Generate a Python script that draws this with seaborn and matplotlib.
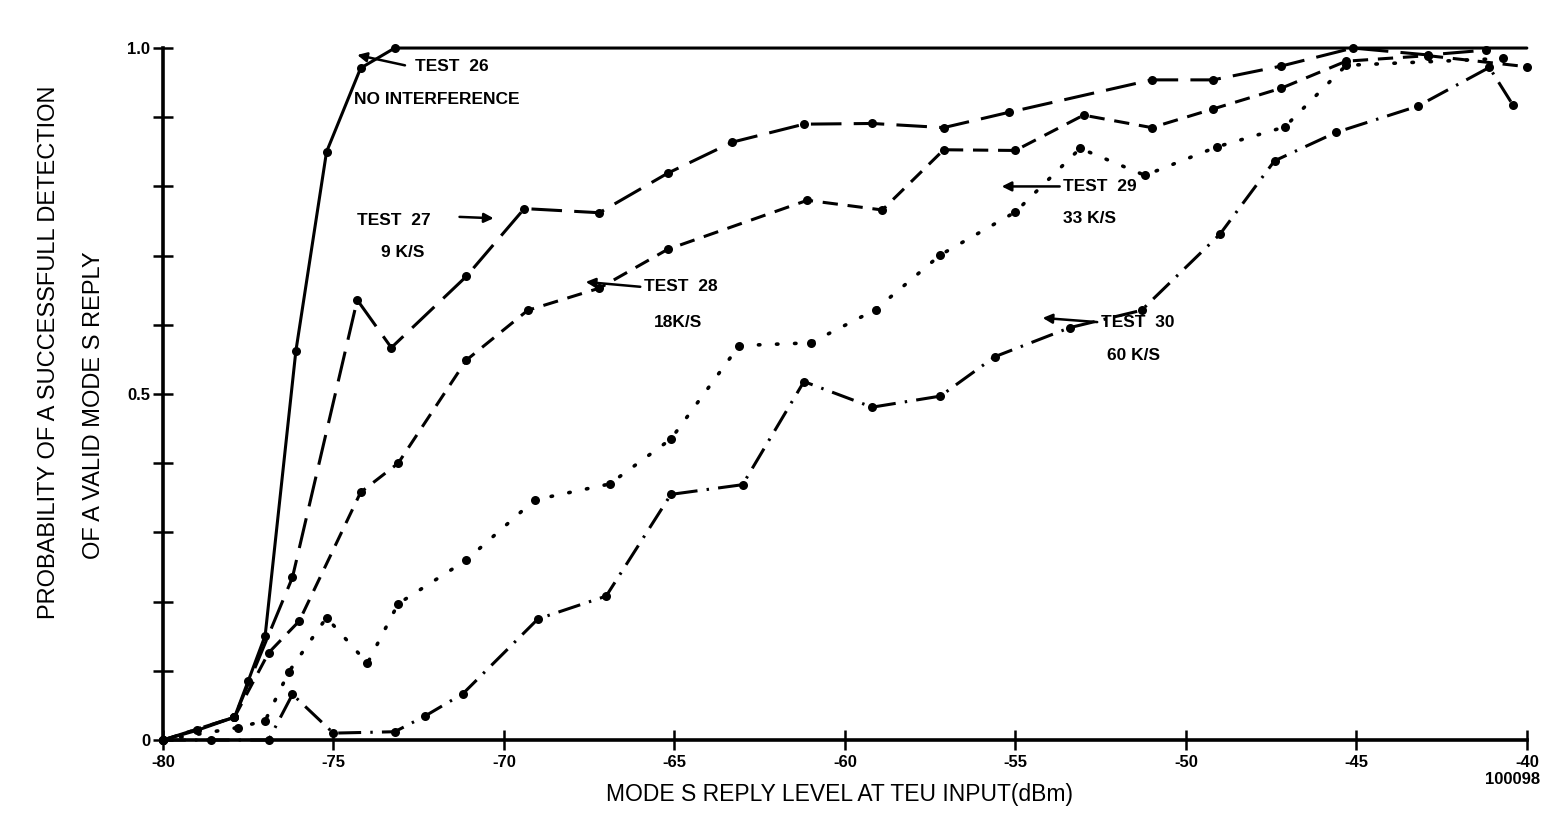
import matplotlib
matplotlib.use("Agg")
import matplotlib.pyplot as plt
import seaborn as sns
import numpy as np
import pandas as pd

# -- data (dBm, probability) --
t26_x = [-80, -79.0, -77.9, -77.5, -77.0, -76.1, -75.2, -74.2, -73.2, -40]
t26_y = [0, 0.014, 0.033, 0.085, 0.151, 0.562, 0.85, 0.971, 1.0, 1.0]

t27_x = [-80, -77.9, -76.2, -74.3, -73.3, -71.1, -69.4, -67.2, -65.2, -63.3,
         -61.2, -59.2, -57.1, -55.2, -51.0, -49.2, -47.2, -45.1, -42.9, -41.2]
t27_y = [0, 0.033, 0.235, 0.636, 0.567, 0.67, 0.768, 0.762, 0.819, 0.864,
         0.89, 0.891, 0.885, 0.907, 0.954, 0.954, 0.974, 1.0, 0.99, 0.997]

t28_x = [-80, -77.9, -76.9, -76.0, -74.2, -73.1, -71.1, -69.3, -67.2, -65.2, -61.1,
         -58.9, -57.1, -55.0, -53.0, -51.0, -49.2, -47.2, -45.3, -42.9, -40.0]
t28_y = [0, 0.033, 0.126, 0.172, 0.358, 0.40, 0.549, 0.621, 0.653, 0.709, 0.78,
         0.766, 0.853, 0.852, 0.903, 0.885, 0.912, 0.942, 0.981, 0.989, 0.973]

t29_x = [-80, -77.8, -77.0, -76.3, -75.2, -74.0, -73.1, -71.1, -69.1, -66.9, -65.1,
         -63.1, -61.0, -59.1, -57.2, -55.0, -53.1, -51.2, -49.1, -47.1, -45.3, -40.7]
t29_y = [0, 0.018, 0.028, 0.099, 0.177, 0.111, 0.197, 0.26, 0.347, 0.37, 0.435,
         0.57, 0.574, 0.622, 0.701, 0.763, 0.855, 0.816, 0.857, 0.886, 0.975, 0.985]

t30_x = [-80, -78.6, -76.9, -76.2, -75.0, -73.2, -72.3, -71.2, -69.0, -67.0, -65.1, -63.0,
         -61.2, -59.2, -57.2, -55.6, -53.4, -51.3, -49.0, -47.4, -45.6, -43.2, -41.1, -40.4]
t30_y = [0, 0.0, 0.0, 0.066, 0.01, 0.012, 0.035, 0.067, 0.175, 0.208, 0.355, 0.369,
         0.518, 0.481, 0.497, 0.554, 0.596, 0.621, 0.731, 0.837, 0.878, 0.916, 0.972, 0.917]

x_ticks = [-80, -75, -70, -65, -60, -55, -50, -45, -40]
x_tick_labels = ["-80", "-75", "-70", "-65", "-60", "-55", "-50", "-45", "-40"]
y_ticks = [0, 0.5, 1.0]
y_tick_labels = ["0", "0.5", "1.0"]

sns.set_theme(style="white")
plt.rcParams['font.family'] = ['Liberation Sans', 'DejaVu Sans']
plt.rcParams['text.color'] = 'black'
plt.rcParams['xtick.color'] = 'black'
plt.rcParams['ytick.color'] = 'black'

fig = plt.figure(figsize=(15.66, 8.4), dpi=100)
ax = fig.add_axes([0.104, 0.119, 0.871, 0.865])

series = [
    (t26_x, t26_y, '-', list(range(9)), 'butt'),
    (t27_x, t27_y, (0, (10, 4)), None, 'butt'),
    (t28_x, t28_y, (0, (5, 3.2)), None, 'butt'),
    (t29_x, t29_y, (0, (0.4, 4.6)), None, 'round'),
    (t30_x, t30_y, (0, (7.5, 3, 0.8, 3)), None, 'butt'),
]
for xs, ys, ls, mev, cap in series:
    df = pd.DataFrame({'x': xs, 'y': ys})
    kw = dict(markevery=mev) if mev is not None else {}
    sns.lineplot(data=df, x='x', y='y', ax=ax, color='black',
                 linewidth=2.6 if cap == 'round' else 2.2,
                 linestyle=ls, dash_capstyle=cap, marker='o', markersize=6.5,
                 markeredgewidth=0, estimator=None, sort=False, clip_on=False, **kw)

ax.set_xlim(-80, -40)
ax.set_ylim(0, 1.05)
for s in ['top', 'right']:
    ax.spines[s].set_visible(False)
ax.spines['left'].set_bounds(0, 1.0)
for s in ['left', 'bottom']:
    ax.spines[s].set_linewidth(2.6)
    ax.spines[s].set_color('black')

ax.set_xticks(x_ticks)
ax.set_xticklabels(x_tick_labels, fontsize=12, fontweight='bold')
ax.set_yticks(y_ticks)
ax.set_yticklabels(y_tick_labels, fontsize=12, fontweight='bold')
ax.set_yticks(np.arange(0.1, 1.0, 0.1), minor=True)
ax.tick_params(axis='both', which='both', direction='inout', length=14, width=1.8,
               color='black', labelcolor='black', bottom=True, left=True)
ax.tick_params(axis='x', pad=4)
ax.tick_params(axis='y', pad=2)
ax.set_xlabel("")
ax.set_ylabel("")

lab = dict(fontsize=12.5, fontweight='bold', color='black', va='center', ha='left')
arr = dict(arrowstyle='-|>', color='black', lw=1.8, mutation_scale=14,
           shrinkA=0, shrinkB=0)

# labels and their arrows (tip, tail)
ax.text(-72.6, 0.973, "TEST  26", **lab)
ax.annotate("", xy=(-74.3, 0.99), xytext=(-72.9, 0.975), arrowprops=arr)
ax.text(-74.4, 0.925, "NO INTERFERENCE", **lab)

ax.text(-74.3, 0.751, "TEST  27", **lab)
ax.annotate("", xy=(-70.3, 0.754), xytext=(-71.3, 0.756), arrowprops=arr)
ax.text(-73.6, 0.705, "9 K/S", **lab)

ax.text(-65.9, 0.655, "TEST  28", **lab)
ax.annotate("", xy=(-67.6, 0.662), xytext=(-66.0, 0.655), arrowprops=arr)
ax.text(-65.6, 0.604, "18K/S", **lab)

ax.text(-53.6, 0.80, "TEST  29", **lab)
ax.annotate("", xy=(-55.4, 0.80), xytext=(-53.7, 0.80), arrowprops=arr)
ax.text(-53.6, 0.753, "33 K/S", **lab)

ax.text(-52.5, 0.604, "TEST  30", **lab)
ax.annotate("", xy=(-54.2, 0.61), xytext=(-52.6, 0.604), arrowprops=arr)
ax.text(-52.3, 0.556, "60 K/S", **lab)

fig.text(0.031, 0.581, "PROBABILITY OF A SUCCESSFULL DETECTION", rotation=90,
         ha='center', va='center', fontsize=17, color='black')
fig.text(0.060, 0.518, "OF A VALID MODE S REPLY", rotation=90,
         ha='center', va='center', fontsize=17, color='black')
fig.text(0.536, 0.054, "MODE S REPLY LEVEL AT TEU INPUT(dBm)", ha='center', va='center',
         fontsize=16.5, color='black')
fig.text(0.966, 0.072, "100098", ha='center', va='center', fontsize=12,
         fontweight='bold', color='black')

fig.savefig("out.png", dpi=100, facecolor='white')
